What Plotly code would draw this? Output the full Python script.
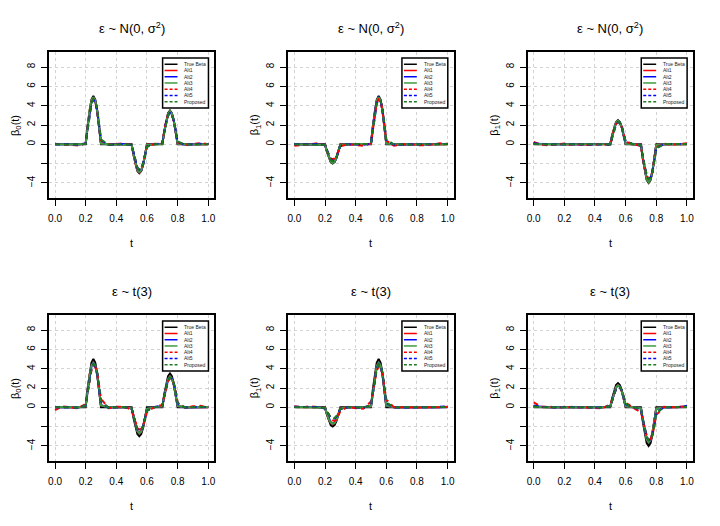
import plotly.graph_objects as go

# t grid: coarse on the flat parts, finer across the three bumps
T = [0, 0.05, 0.1, 0.15,
     0.2, 0.2125, 0.225, 0.2375, 0.25, 0.2625, 0.275, 0.2875, 0.3,
     0.35, 0.4, 0.45,
     0.5, 0.5125, 0.525, 0.5375, 0.55, 0.5625, 0.575, 0.5875, 0.6,
     0.65,
     0.7, 0.7125, 0.725, 0.7375, 0.75, 0.7625, 0.775, 0.7875, 0.8,
     0.85, 0.9, 0.95, 1.0]

# true coefficient functions
B0 = [0, 0, 0, 0, 0, 1.91, 3.54, 4.62, 5, 4.62, 3.54, 1.91, 0, 0, 0, 0,
      0, -1.15, -2.12, -2.77, -3, -2.77, -2.12, -1.15, 0, 0,
      0, 1.34, 2.47, 3.23, 3.5, 3.23, 2.47, 1.34, 0, 0, 0, 0, 0]
B1 = [0, 0, 0, 0, 0, -0.77, -1.41, -1.85, -2, -1.85, -1.41, -0.77, 0, 0, 0, 0,
      0, 1.91, 3.54, 4.62, 5, 4.62, 3.54, 1.91, 0, 0,
      0, 0, 0, 0, 0, 0, 0, 0, 0, 0, 0, 0, 0]
B2 = [0, 0, 0, 0, 0, 0, 0, 0, 0, 0, 0, 0, 0, 0, 0, 0,
      0, 0.96, 1.77, 2.31, 2.5, 2.31, 1.77, 0.96, 0, 0,
      0, -1.53, -2.83, -3.70, -4, -3.70, -2.83, -1.53, 0, 0, 0, 0, 0]

# normal errors, beta0
N0_ALT1 = [0.02, 0.01, -0.02, 0.0, 0.05, 1.8, 3.45, 4.5, 4.85, 4.5, 3.45, 1.85, 0.1, 0.0, 0.01, 0.0,
           -0.05, -1.1, -2.05, -2.7, -2.9, -2.7, -2.05, -1.1, -0.05, 0.0,
           0.05, 1.3, 2.4, 3.15, 3.4, 3.15, 2.4, 1.3, 0.05, 0.0, 0.01, 0.02, 0.0]
N0_ALT2 = [0.0, 0.02, 0.0, -0.02, 0.08, 1.75, 3.4, 4.45, 4.8, 4.5, 3.5, 1.9, 0.12, -0.02, 0.0, 0.02,
           -0.08, -1.05, -2.0, -2.65, -2.85, -2.7, -2.1, -1.15, -0.08, 0.02,
           0.06, 1.25, 2.35, 3.1, 3.38, 3.15, 2.45, 1.35, 0.08, -0.01, 0.0, 0.01, 0.02]
N0_ALT3 = [0.01, 0.0, -0.01, 0.01, 0.06, 1.82, 3.48, 4.52, 4.88, 4.55, 3.48, 1.86, 0.08, 0.01, 0.0, 0.01,
           -0.06, -1.08, -2.03, -2.68, -2.88, -2.68, -2.04, -1.1, -0.06, 0.01,
           0.04, 1.28, 2.38, 3.13, 3.42, 3.17, 2.42, 1.3, 0.06, 0.0, 0.0, 0.01, 0.01]
N0_ALT4 = [0.05, 0.02, -0.05, -0.12, 0.1, 1.6, 3.2, 4.3, 4.65, 4.4, 3.5, 2.0, 0.4, -0.05, 0.02, 0.12,
           -0.1, -1.0, -1.9, -2.5, -2.65, -2.5, -1.95, -1.1, -0.2, 0.05,
           0.1, 1.3, 2.4, 3.0, 3.2, 3.0, 2.4, 1.4, 0.2, -0.05, 0.05, 0.12, 0.02]
N0_ALT5 = [0.0, 0.01, 0.0, -0.05, 0.08, 1.5, 3.1, 4.25, 4.6, 4.45, 3.6, 2.1, 0.45, -0.06, 0.0, 0.05,
           -0.08, -0.95, -1.85, -2.45, -2.62, -2.48, -1.98, -1.15, -0.22, 0.02,
           0.08, 1.25, 2.35, 3.0, 3.22, 3.03, 2.45, 1.45, 0.25, -0.04, 0.02, 0.05, 0.02]
N0_PROP = [0.0, 0.0, 0.0, -0.03, 0.05, 1.4, 3.0, 4.2, 4.65, 4.5, 3.7, 2.2, 0.5, -0.05, 0.0, 0.03,
           -0.05, -0.9, -1.8, -2.4, -2.6, -2.5, -2.0, -1.2, -0.25, 0.0,
           0.05, 1.2, 2.3, 3.0, 3.25, 3.05, 2.5, 1.5, 0.3, -0.03, 0.0, 0.03, 0.02]

# normal errors, beta1
N1_ALT1 = [0.0, 0.01, 0.0, 0.01, -0.03, -0.72, -1.35, -1.78, -1.92, -1.78, -1.35, -0.75, -0.04, 0.0, 0.0, 0.01,
           0.05, 1.8, 3.45, 4.5, 4.85, 4.5, 3.45, 1.85, 0.08, 0.0,
           0.0, 0.01, 0.0, -0.01, 0.0, 0.01, 0.0, 0.0, 0.0, 0.0, 0.01, 0.0, 0.01]
N1_ALT2 = [0.01, 0.0, 0.02, 0.0, -0.05, -0.7, -1.3, -1.75, -1.9, -1.8, -1.38, -0.78, -0.06, 0.01, 0.0, 0.0,
           0.07, 1.75, 3.4, 4.45, 4.8, 4.52, 3.5, 1.9, 0.1, -0.01,
           0.0, 0.0, 0.01, 0.0, -0.01, 0.0, 0.0, 0.01, 0.0, 0.01, 0.0, 0.0, 0.02]
N1_ALT3 = [0.0, 0.0, 0.01, 0.0, -0.04, -0.74, -1.37, -1.8, -1.94, -1.8, -1.37, -0.76, -0.05, 0.0, 0.01, 0.0,
           0.06, 1.82, 3.48, 4.52, 4.88, 4.55, 3.48, 1.86, 0.07, 0.0,
           0.0, 0.0, 0.0, 0.0, 0.0, 0.0, 0.0, 0.0, 0.0, 0.0, 0.0, 0.01, 0.01]
N1_ALT4 = [-0.15, -0.05, 0.05, 0.1, -0.1, -0.65, -1.15, -1.45, -1.55, -1.45, -1.15, -0.7, -0.2, 0.02, -0.05, -0.15,
           0.1, 1.6, 3.2, 4.3, 4.65, 4.45, 3.6, 2.1, 0.4, -0.15,
           0.02, 0.0, -0.02, 0.0, 0.02, 0.0, -0.02, -0.05, -0.08, -0.1, 0.0, 0.1, 0.05]
N1_ALT5 = [0.0, 0.0, 0.02, 0.03, -0.06, -0.6, -1.15, -1.55, -1.72, -1.65, -1.3, -0.8, -0.15, 0.02, 0.0, -0.03,
           0.05, 1.5, 3.1, 4.25, 4.62, 4.48, 3.65, 2.15, 0.45, -0.05,
           0.0, 0.0, 0.0, 0.0, 0.0, 0.0, 0.0, -0.01, -0.02, 0.0, 0.01, 0.02, 0.03]
N1_PROP = [0.0, 0.0, 0.01, 0.02, -0.05, -0.62, -1.2, -1.6, -1.75, -1.68, -1.32, -0.8, -0.12, 0.01, 0.0, -0.02,
           0.04, 1.45, 3.05, 4.2, 4.6, 4.5, 3.7, 2.2, 0.5, -0.03,
           0.0, 0.0, 0.0, 0.0, 0.0, 0.0, 0.0, 0.0, -0.01, 0.0, 0.0, 0.02, 0.02]

# normal errors, beta2
N2_ALT1 = [0.02, 0.0, 0.0, 0.01, 0.0, 0.0, 0.01, 0.0, 0.0, 0.0, 0.01, 0.0, 0.0, 0.0, 0.0, 0.01,
           0.03, 0.92, 1.72, 2.25, 2.42, 2.25, 1.72, 0.94, 0.05, 0.0,
           -0.05, -1.48, -2.75, -3.6, -3.9, -3.6, -2.75, -1.5, -0.06, 0.0, 0.0, 0.01, 0.0]
N2_ALT2 = [0.05, 0.01, 0.0, 0.0, 0.01, 0.0, 0.0, 0.01, 0.0, 0.0, 0.0, 0.01, 0.0, 0.0, 0.01, 0.0,
           0.05, 0.9, 1.7, 2.22, 2.4, 2.25, 1.75, 0.98, 0.07, 0.01,
           -0.07, -1.45, -2.7, -3.55, -3.85, -3.62, -2.8, -1.55, -0.08, 0.0, 0.01, 0.0, 0.02]
N2_ALT3 = [0.03, 0.0, 0.01, 0.0, 0.0, 0.0, 0.0, 0.0, 0.0, 0.0, 0.0, 0.0, 0.0, 0.01, 0.0, 0.0,
           0.04, 0.93, 1.73, 2.27, 2.45, 2.27, 1.73, 0.95, 0.05, 0.0,
           -0.06, -1.5, -2.78, -3.63, -3.93, -3.63, -2.78, -1.51, -0.07, 0.0, 0.0, 0.0, 0.01]
N2_ALT4 = [0.25, -0.05, -0.1, 0.02, 0.08, -0.02, -0.06, -0.05, 0.0, 0.05, 0.06, 0.02, -0.03, -0.08, 0.02, 0.05,
           -0.1, 0.75, 1.55, 2.1, 2.3, 2.2, 1.8, 1.1, 0.25, 0.05,
           -0.2, -1.5, -2.55, -3.25, -3.55, -3.4, -2.8, -1.7, -0.35, 0.08, -0.05, 0.05, 0.1]
N2_ALT5 = [0.1, 0.0, -0.03, 0.0, 0.02, 0.0, -0.01, 0.0, 0.01, 0.01, 0.0, 0.0, 0.0, -0.02, 0.0, 0.02,
           -0.03, 0.72, 1.5, 2.05, 2.3, 2.22, 1.85, 1.15, 0.3, 0.02,
           -0.12, -1.35, -2.45, -3.2, -3.55, -3.45, -2.9, -1.85, -0.4, 0.03, 0.0, 0.02, 0.04]
N2_PROP = [0.05, 0.0, -0.02, 0.0, 0.01, 0.0, 0.0, 0.0, 0.0, 0.0, 0.0, 0.0, 0.0, -0.01, 0.0, 0.01,
           -0.02, 0.7, 1.48, 2.05, 2.3, 2.25, 1.88, 1.2, 0.32, 0.01,
           -0.1, -1.3, -2.4, -3.2, -3.6, -3.5, -2.95, -1.9, -0.45, 0.02, 0.0, 0.01, 0.03]

# t(3) errors, beta0
T0_ALT1 = [0.03, 0.02, -0.03, 0.0, 0.1, 1.75, 3.3, 4.3, 4.65, 4.35, 3.35, 1.85, 0.2, 0.0, 0.02, 0.0,
           -0.1, -1.0, -1.9, -2.5, -2.7, -2.55, -1.95, -1.1, -0.15, 0.01,
           0.08, 1.2, 2.25, 2.95, 3.2, 3.0, 2.3, 1.3, 0.12, 0.0, 0.02, 0.02, 0.0]
T0_ALT2 = [0.0, 0.02, 0.01, -0.02, 0.12, 1.7, 3.25, 4.25, 4.6, 4.35, 3.4, 1.9, 0.22, -0.02, 0.0, 0.03,
           -0.12, -0.95, -1.85, -2.45, -2.65, -2.5, -1.95, -1.15, -0.18, 0.03,
           0.1, 1.15, 2.2, 2.9, 3.15, 2.98, 2.32, 1.35, 0.15, -0.01, 0.0, 0.01, 0.03]
T0_ALT3 = [0.02, 0.0, -0.01, 0.01, 0.1, 1.72, 3.28, 4.28, 4.62, 4.35, 3.38, 1.88, 0.2, 0.0, 0.01, 0.01,
           -0.1, -0.98, -1.88, -2.48, -2.68, -2.52, -1.95, -1.12, -0.16, 0.02,
           0.09, 1.18, 2.22, 2.92, 3.18, 2.99, 2.31, 1.32, 0.13, 0.0, 0.01, 0.01, 0.02]
T0_ALT4 = [-0.3, 0.1, 0.0, -0.1, 0.35, 1.4, 2.7, 3.8, 4.3, 4.2, 3.6, 2.4, 0.9, -0.1, 0.05, 0.08,
           -0.25, -0.9, -1.6, -2.1, -2.3, -2.25, -1.9, -1.3, -0.5, 0.05,
           0.25, 1.1, 2.0, 2.7, 3.0, 2.95, 2.5, 1.7, 0.5, -0.05, 0.1, 0.15, -0.05]
T0_ALT5 = [0.0, 0.03, 0.0, -0.05, 0.2, 1.5, 2.95, 4.0, 4.45, 4.3, 3.55, 2.2, 0.6, -0.06, 0.02, 0.04,
           -0.18, -0.95, -1.8, -2.3, -2.45, -2.35, -1.9, -1.2, -0.35, 0.03,
           0.15, 1.1, 2.1, 2.8, 3.05, 2.95, 2.45, 1.6, 0.4, -0.03, 0.04, 0.06, 0.02]
T0_PROP = [0.0, 0.02, 0.0, -0.04, 0.18, 1.45, 2.9, 3.95, 4.45, 4.35, 3.65, 2.3, 0.65, -0.05, 0.01, 0.03,
           -0.15, -0.9, -1.75, -2.3, -2.45, -2.38, -1.95, -1.25, -0.38, 0.02,
           0.12, 1.05, 2.05, 2.78, 3.08, 3.0, 2.5, 1.62, 0.42, -0.02, 0.03, 0.05, 0.02]

# t(3) errors, beta1
T1_ALT1 = [0.02, 0.0, 0.01, 0.0, -0.1, -0.7, -1.25, -1.6, -1.75, -1.65, -1.3, -0.75, -0.12, 0.01, 0.0, 0.0,
           0.1, 1.7, 3.3, 4.3, 4.65, 4.35, 3.35, 1.85, 0.15, 0.0,
           0.0, 0.01, 0.0, 0.0, 0.0, 0.0, 0.0, 0.01, 0.0, 0.0, 0.01, 0.0, 0.02]
T1_ALT2 = [0.03, 0.01, 0.0, 0.02, -0.12, -0.65, -1.2, -1.55, -1.7, -1.62, -1.3, -0.78, -0.15, 0.0, 0.01, 0.0,
           0.12, 1.65, 3.25, 4.25, 4.6, 4.35, 3.4, 1.9, 0.18, 0.01,
           0.0, 0.0, 0.01, 0.0, 0.0, 0.0, 0.01, 0.0, 0.0, 0.01, 0.0, 0.01, 0.03]
T1_ALT3 = [0.02, 0.0, 0.0, 0.01, -0.1, -0.68, -1.23, -1.58, -1.72, -1.63, -1.3, -0.76, -0.13, 0.0, 0.0, 0.0,
           0.1, 1.68, 3.28, 4.28, 4.62, 4.35, 3.38, 1.88, 0.16, 0.0,
           0.0, 0.0, 0.0, 0.0, 0.0, 0.0, 0.0, 0.0, 0.0, 0.0, 0.0, 0.0, 0.02]
T1_ALT4 = [0.1, 0.0, 0.12, 0.05, -0.05, -0.35, -0.75, -1.1, -1.35, -1.4, -1.25, -0.9, -0.4, 0.05, -0.1, -0.15,
           0.6, 1.6, 2.9, 3.8, 4.2, 4.1, 3.45, 2.3, 0.8, 0.0,
           0.05, 0.02, 0.0, -0.02, 0.0, 0.02, 0.0, -0.03, -0.02, 0.0, 0.02, 0.0, 0.05]
T1_ALT5 = [0.05, 0.02, 0.05, 0.03, -0.08, -0.45, -0.85, -1.1, -1.2, -1.15, -0.95, -0.6, -0.2, 0.02, -0.03, -0.05,
           0.25, 1.55, 3.0, 4.0, 4.45, 4.3, 3.5, 2.1, 0.45, -0.02,
           0.0, 0.0, 0.0, 0.0, 0.0, 0.0, 0.0, 0.0, 0.0, 0.0, 0.0, 0.02, 0.1]
T1_PROP = [0.03, 0.01, 0.03, 0.02, -0.05, -0.42, -0.8, -1.05, -1.15, -1.1, -0.9, -0.58, -0.18, 0.01, -0.02, -0.03,
           0.2, 1.5, 2.95, 3.95, 4.45, 4.35, 3.6, 2.2, 0.5, -0.01,
           0.0, 0.0, 0.0, 0.0, 0.0, 0.0, 0.0, 0.0, 0.0, 0.0, 0.0, 0.01, 0.03]

# t(3) errors, beta2
T2_ALT1 = [0.05, 0.0, 0.01, 0.0, 0.0, 0.0, 0.01, 0.0, 0.0, 0.0, 0.0, 0.01, 0.0, 0.0, 0.0, 0.0,
           0.08, 0.85, 1.6, 2.1, 2.3, 2.15, 1.65, 0.9, 0.1, 0.0,
           -0.1, -1.35, -2.55, -3.35, -3.65, -3.4, -2.6, -1.45, -0.12, 0.0, 0.01, 0.0, 0.02]
T2_ALT2 = [0.1, 0.02, 0.0, 0.0, 0.01, 0.0, 0.0, 0.0, 0.0, 0.01, 0.0, 0.0, 0.0, 0.0, 0.0, 0.01,
           0.1, 0.82, 1.55, 2.05, 2.25, 2.15, 1.7, 0.95, 0.12, 0.01,
           -0.12, -1.3, -2.5, -3.3, -3.6, -3.4, -2.65, -1.5, -0.15, 0.0, 0.0, 0.02, 0.12]
T2_ALT3 = [0.06, 0.01, 0.0, 0.0, 0.0, 0.0, 0.0, 0.0, 0.0, 0.0, 0.0, 0.0, 0.0, 0.0, 0.0, 0.0,
           0.09, 0.84, 1.58, 2.08, 2.28, 2.15, 1.68, 0.92, 0.11, 0.0,
           -0.11, -1.33, -2.53, -3.33, -3.63, -3.4, -2.62, -1.47, -0.13, 0.0, 0.0, 0.01, 0.05]
T2_ALT4 = [0.5, 0.05, 0.08, -0.05, 0.05, -0.03, 0.0, 0.05, 0.05, 0.0, -0.05, -0.03, 0.02, 0.0, -0.05, -0.1,
           0.3, 0.9, 1.45, 1.85, 2.05, 2.0, 1.7, 1.15, 0.5, -0.05,
           -0.5, -1.3, -2.2, -2.9, -3.3, -3.3, -2.9, -2.0, -0.8, 0.05, 0.0, 0.05, 0.1]
T2_ALT5 = [0.2, 0.02, 0.03, -0.02, 0.02, 0.0, 0.0, 0.02, 0.02, 0.0, -0.02, 0.0, 0.0, 0.0, -0.02, -0.03,
           0.12, 0.75, 1.45, 1.9, 2.1, 2.05, 1.75, 1.1, 0.35, 0.0,
           -0.25, -1.25, -2.3, -3.05, -3.4, -3.35, -2.85, -1.9, -0.55, 0.02, 0.0, 0.03, 0.15]
T2_PROP = [0.1, 0.01, 0.02, 0.0, 0.01, 0.0, 0.0, 0.01, 0.01, 0.0, 0.0, 0.0, 0.0, 0.0, -0.01, -0.02,
           0.1, 0.72, 1.42, 1.9, 2.12, 2.08, 1.78, 1.15, 0.38, 0.0,
           -0.2, -1.2, -2.28, -3.05, -3.42, -3.38, -2.9, -1.95, -0.6, 0.01, 0.0, 0.02, 0.05]

SERIES = ["True Beta", "Alt1", "Alt2", "Alt3", "Alt4", "Alt5", "Proposed"]
COLORS = ["black", "red", "blue", "#3f9a3f", "red", "blue", "#1f7a1f"]
DASHED = [False, False, False, False, True, True, True]

TITLES = ["ε ~ N(0, σ<sup>2</sup>)"] * 3 + ["ε ~ t(3)"] * 3
YLABELS = ["β<sub>0</sub>(t)", "β<sub>1</sub>(t)", "β<sub>1</sub>(t)"] * 2
CURVES = [
    [B0, N0_ALT1, N0_ALT2, N0_ALT3, N0_ALT4, N0_ALT5, N0_PROP],
    [B1, N1_ALT1, N1_ALT2, N1_ALT3, N1_ALT4, N1_ALT5, N1_PROP],
    [B2, N2_ALT1, N2_ALT2, N2_ALT3, N2_ALT4, N2_ALT5, N2_PROP],
    [B0, T0_ALT1, T0_ALT2, T0_ALT3, T0_ALT4, T0_ALT5, T0_PROP],
    [B1, T1_ALT1, T1_ALT2, T1_ALT3, T1_ALT4, T1_ALT5, T1_PROP],
    [B2, T2_ALT1, T2_ALT2, T2_ALT3, T2_ALT4, T2_ALT5, T2_PROP],
]
for group in CURVES:
    for c in group:
        assert len(c) == len(T), len(c)

XTICKS = [0, 0.2, 0.4, 0.6, 0.8, 1.0]
YTICKS = [-4, 0, 2, 4, 6, 8]
YTICKTEXT = ["−4", "0", "2", "4", "6", "8"]
YTICKS_UNLABELLED = [-2]  # R dropped this label, tick and grid stay

# the page body adds an 8px margin, so the figure is 8px smaller and shifted
OFF = 8
W, H = 720 - OFF, 526 - OFF
FONT = "Liberation Sans, Arial, sans-serif"
GRID = "#d3d3d3"


def px(x):
    return (x - OFF) / W


def py(y):
    return 1 - (y - OFF) / H


fig = go.Figure()
layout = dict(width=W, height=H, margin=dict(l=0, r=0, t=0, b=0),
              paper_bgcolor="white", plot_bgcolor="white", showlegend=False,
              font=dict(family=FONT, size=10, color="black"))
annotations = []
shapes = []

for i in range(6):
    row, col = divmod(i, 3)
    left, right = 48 + 240 * col, 214 + 240 * col
    top, bottom = 52 + 263 * row, 198 + 263 * row
    sfx = "" if i == 0 else str(i + 1)
    xa, ya = "x" + sfx, "y" + sfx

    for name, color, dashed, ys in zip(SERIES, COLORS, DASHED, CURVES[i]):
        fig.add_trace(go.Scatter(
            x=T, y=ys, mode="lines", name=name, xaxis=xa, yaxis=ya,
            line=dict(color=color, width=2, dash="5px,4px" if dashed else "solid"),
            hoverinfo="skip"))

    axis_common = dict(showline=True, mirror=True, linecolor="black", linewidth=1.5,
                       ticks="outside", ticklen=6, tickcolor="black", tickwidth=1,
                       showgrid=True, gridcolor=GRID, griddash="dot", gridwidth=1,
                       zeroline=False, tickfont=dict(size=10, family=FONT, color="black"))
    layout["xaxis" + sfx] = dict(axis_common, domain=[px(left), px(right)], anchor=ya,
                                 range=[-0.04, 1.04], tickvals=XTICKS,
                                 ticktext=[f"{v:.1f}" for v in XTICKS], ticklabelstandoff=4)
    layout["yaxis" + sfx] = dict(axis_common, domain=[py(bottom), py(top)], anchor=xa,
                                 range=[-5.56, 9.56], tickvals=YTICKS, ticktext=YTICKTEXT,
                                 tickangle=-90, ticklabelstandoff=2,
                                 minor=dict(tickmode="array", tickvals=YTICKS_UNLABELLED,
                                            ticks="outside", ticklen=6, tickcolor="black",
                                            tickwidth=1, showgrid=True, gridcolor=GRID,
                                            griddash="dot", gridwidth=1))

    cx = px((left + right) / 2)
    annotations.append(dict(text=TITLES[i], x=cx, y=py(28 + 263 * row), xref="paper", yref="paper",
                            showarrow=False, xanchor="center", yanchor="middle",
                            font=dict(size=13, family=FONT, color="black")))
    annotations.append(dict(text="t", x=cx, y=py(243 + 263 * row), xref="paper", yref="paper",
                            showarrow=False, xanchor="center", yanchor="middle",
                            font=dict(size=11, family=FONT, color="black")))
    annotations.append(dict(text=YLABELS[i], x=px(15 + 240 * col), y=py((top + bottom) / 2),
                            xref="paper", yref="paper", textangle=-90, showarrow=False,
                            xanchor="center", yanchor="middle",
                            font=dict(size=11, family=FONT, color="black")))

    # legend box drawn inside the panel
    xr, yr = xa + " domain", ya + " domain"
    shapes.append(dict(type="rect", xref=xr, yref=yr, x0=0.687, x1=0.964, y0=0.616, y1=0.959,
                       fillcolor="white", line=dict(color="black", width=1.5), layer="above"))
    for k, (name, color, dashed) in enumerate(zip(SERIES, COLORS, DASHED)):
        yk = 0.916 - 0.0427 * k
        shapes.append(dict(type="line", xref=xr, yref=yr, x0=0.699, x1=0.777, y0=yk, y1=yk,
                           line=dict(color=color, width=1.5, dash="3px,2px" if dashed else "solid"),
                           layer="above"))
        annotations.append(dict(text=name, xref=xr, yref=yr, x=0.807, y=yk, xanchor="left",
                                yanchor="middle", showarrow=False,
                                font=dict(size=5, family=FONT, color="#222222")))

layout["annotations"] = annotations
layout["shapes"] = shapes
fig.update_layout(**layout)
fig.write_html("out.html")
